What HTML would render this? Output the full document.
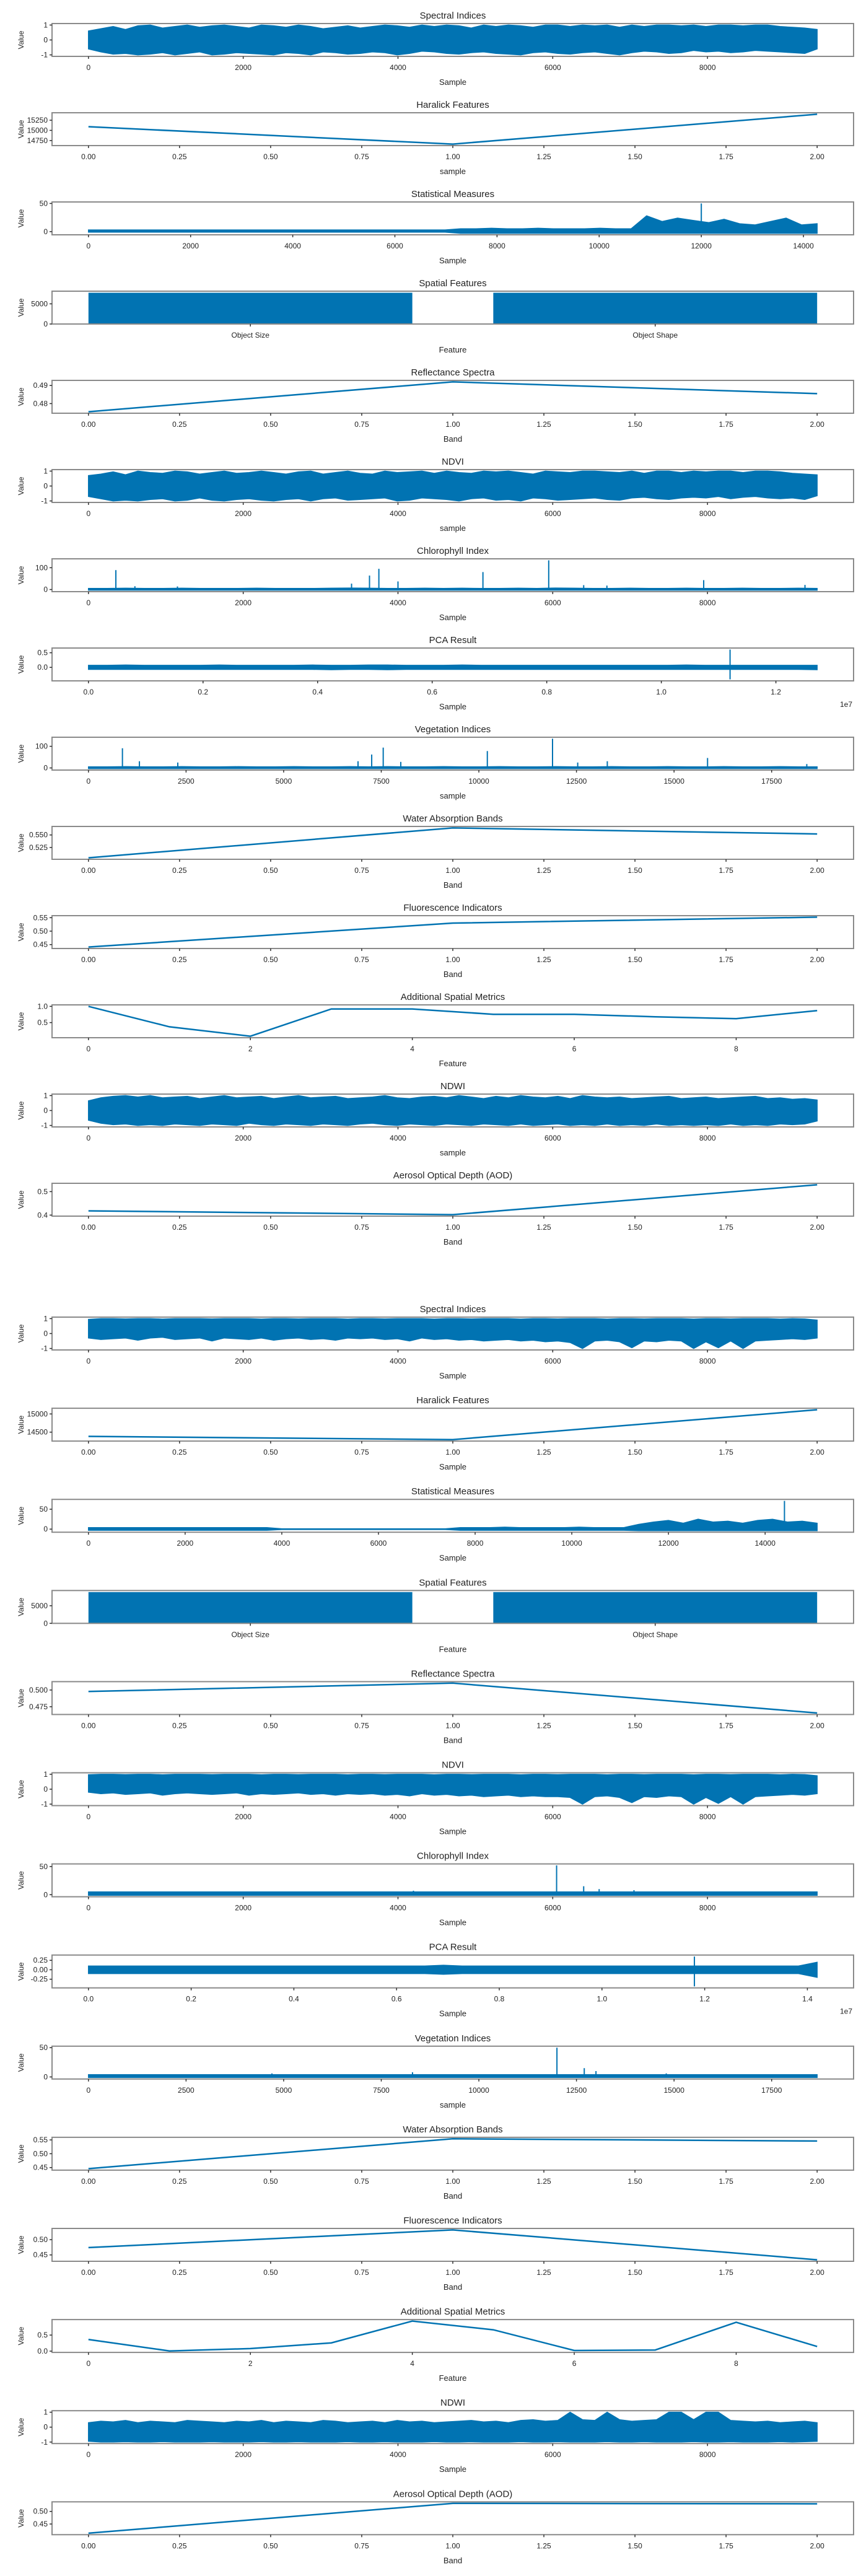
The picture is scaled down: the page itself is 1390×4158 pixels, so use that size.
<!DOCTYPE html>
<html><head><meta charset="utf-8">
<style>
html,body{margin:0;padding:0;background:#fff;}
svg{display:block;}
text{font-family:"Liberation Sans",sans-serif;fill:#222;}
</style></head>
<body>
<svg id="fig" width="1390" height="4158" viewBox="0 0 1390 4158" xmlns="http://www.w3.org/2000/svg"></svg>
<script>
// ---------- data ----------
const bandX = [0, 1, 2];
const featX = [0, 1, 2, 3, 4, 5, 6, 7, 8, 9];
const spatialCats = ["Object Size", "Object Shape"];

// group 1
const spec1Up = [0.6,0.75,0.9,0.7,0.95,1,0.8,0.9,1,0.85,0.95,1,0.9,0.8,1,0.95,0.85,1,0.9,0.75,0.85,0.95,0.8,0.9,1,0.95,0.85,1,0.9,1,0.95,0.8,1,0.9,1,0.95,0.85,1,1,0.9,1,0.95,1,0.85,1,0.9,1,1,0.95,1,0.9,1,1,0.95,1,1,0.9,0.85,0.8,0.7];
const spec1Lo = [-0.6,-0.8,-0.95,-0.9,-1,-0.95,-0.85,-1,-0.9,-0.8,-1,-0.95,-0.85,-0.9,-0.95,-1,-0.85,-0.9,-1,-0.8,-0.85,-0.95,-0.9,-0.8,-0.85,-1,-0.9,-0.75,-0.8,-0.9,-0.95,-0.85,-0.8,-0.9,-0.95,-1,-0.85,-0.8,-0.9,-0.95,-0.85,-0.8,-0.9,-1,-0.85,-0.75,-0.8,-0.9,-0.85,-0.7,-0.8,-0.75,-0.85,-0.8,-0.7,-0.75,-0.8,-0.85,-0.9,-0.6];
const haralick1 = [15091, 14662, 15397];
const stat1Up = [3,3,3,3,3,3,3,3,3,3,3,3,3,3,3,3,3,3,3,3,3,3,3,3,5,5,6,5,5,6,5,5,5,6,5,5,28,18,24,20,16,22,14,12,18,24,12,14];
const stat1Lo = [-1,-1,-1,-1,-1,-1,-1,-1,-1,-1,-1,-1,-1,-1,-1,-1,-1,-1,-1,-1,-1,-1,-1,-1,-3,-3,-3,-3,-3,-3,-3,-3,-3,-3,-3,-3,-3,-3,-3,-3,-3,-3,-3,-3,-3,-3,-3,-3];
const stat1SpikeX = [12000];
const stat1SpikeY = [50];
const spatial1 = [7750, 7750];
const refl1 = [0.4755, 0.492, 0.4855];
const ndvi1Up = [0.7,0.8,0.95,0.75,1,0.9,0.85,1,0.95,0.8,0.9,1,0.85,0.9,1,0.9,0.8,0.95,1,0.8,0.9,1,0.85,0.8,1,0.9,0.95,1,0.85,1,0.9,0.85,1,0.95,1,0.9,0.8,1,0.95,0.9,1,1,0.95,0.9,1,0.85,1,1,0.9,1,0.95,1,1,0.9,1,1,0.95,0.85,0.8,0.75];
const ndvi1Lo = [-0.7,-0.85,-1,-0.95,-1,-0.9,-0.85,-1,-0.95,-0.8,-0.95,-1,-0.9,-0.85,-0.95,-1,-0.9,-0.85,-1,-0.85,-0.8,-0.95,-0.9,-0.85,-0.8,-1,-0.95,-0.8,-0.85,-0.9,-1,-0.85,-0.8,-0.95,-0.9,-1,-0.8,-0.85,-0.95,-0.9,-0.85,-0.8,-0.9,-0.95,-0.8,-0.75,-0.85,-0.9,-0.8,-0.75,-0.8,-0.7,-0.85,-0.75,-0.7,-0.8,-0.85,-0.8,-0.9,-0.65];
const chl1Up = [5,5,6,5,5,6,5,5,5,6,5,5,5,6,7,6,5,5,6,5,6,5,5,6,5,7,6,5,5,6,5,5,6,5,5,6,5,5,6,5];
const chl1Lo = [-3,-3,-3,-3,-3,-3,-3,-3,-3,-3,-3,-3,-3,-3,-3,-3,-3,-3,-3,-3,-3,-3,-3,-3,-3,-3,-3,-3,-3,-3,-3,-3,-3,-3,-3,-3,-3,-3,-3,-3];
const chl1SpikeX = [354, 3400, 3632, 3753, 4000, 5098, 5948, 6400, 6700, 7951, 9260, 600, 1150];
const chl1SpikeY = [89, 27, 64, 95, 37, 80, 134, 20, 18, 43, 21, 15, 14];
const pca1Up = [0.07,0.07,0.08,0.07,0.07,0.07,0.07,0.08,0.07,0.07,0.07,0.07,0.08,0.07,0.07,0.08,0.08,0.07,0.07,0.07,0.08,0.07,0.07,0.07,0.07,0.07,0.07,0.07,0.07,0.07,0.07,0.07,0.08,0.07,0.07,0.07,0.07,0.07,0.07,0.07];
const pca1Lo = [-0.07,-0.07,-0.07,-0.07,-0.07,-0.07,-0.07,-0.07,-0.07,-0.07,-0.07,-0.07,-0.07,-0.08,-0.07,-0.07,-0.08,-0.07,-0.07,-0.07,-0.07,-0.07,-0.07,-0.07,-0.07,-0.07,-0.07,-0.07,-0.07,-0.07,-0.07,-0.07,-0.07,-0.07,-0.07,-0.07,-0.07,-0.07,-0.07,-0.08];
const pca1SpikeX = [11200000, 11200000];
const pca1SpikeY = [0.61, -0.41];
const veg1Up = [5,5,6,5,5,6,5,5,6,5,5,6,5,5,6,5,6,5,5,6,5,5,6,5,5,6,5,5,6,5,5,6,5,5,6,5,5,6,5,5];
const veg1Lo = [-3,-3,-3,-3,-3,-3,-3,-3,-3,-3,-3,-3,-3,-3,-3,-3,-3,-3,-3,-3,-3,-3,-3,-3,-3,-3,-3,-3,-3,-3,-3,-3,-3,-3,-3,-3,-3,-3,-3,-3];
const veg1SpikeX = [870, 1305, 2288, 6905, 7255, 7550, 8000, 10217, 11887, 12532, 13290, 15858, 18400];
const veg1SpikeY = [91, 31, 25, 31, 62, 94, 28, 78, 135, 25, 31, 46, 18];
const water1 = [0.5044, 0.564, 0.552];
const fluor1 = [0.441, 0.530, 0.552];
const addl1 = [1.0, 0.37, 0.08, 0.92, 0.92, 0.755, 0.755, 0.68, 0.62, 0.87];
const ndwi1Up = [0.65,0.85,0.95,1,0.9,1,0.85,0.9,0.95,0.8,0.9,1,0.85,0.9,0.95,0.8,0.9,1,0.85,0.9,0.95,0.8,0.85,0.9,1,0.85,0.8,0.9,0.95,0.85,1,0.9,0.8,0.95,0.85,1,0.9,0.85,0.95,0.8,1,0.9,0.85,0.9,0.8,0.85,0.9,0.95,0.8,0.85,0.9,0.8,0.85,0.9,0.95,0.8,0.85,0.75,0.8,0.7];
const ndwi1Lo = [-0.65,-0.85,-0.95,-0.9,-1,-0.95,-1,-0.9,-0.95,-1,-0.9,-0.95,-1,-0.85,-0.95,-1,-0.9,-0.95,-1,-0.9,-0.95,-1,-0.9,-0.85,-0.95,-1,-0.9,-0.95,-1,-0.9,-0.95,-1,-0.9,-0.95,-1,-0.9,-1,-0.95,-0.9,-1,-0.95,-1,-0.9,-1,-0.95,-1,-0.9,-1,-0.95,-1,-0.95,-1,-0.9,-1,-0.95,-1,-0.9,-0.95,-0.9,-0.7];
const aod1 = [0.418, 0.402, 0.529];

// group 2
const spec2Up = [0.95,1,1,0.98,1,1,0.97,1,1,1,0.98,1,1,1,0.97,1,1,0.98,1,1,1,0.97,1,1,0.98,1,1,1,0.97,1,1,0.98,1,1,1,0.97,1,1,0.98,1,1,1,0.97,1,1,0.98,1,1,1,0.97,1,1,0.98,1,1,1,0.97,1,0.98,0.9];
const spec2Lo = [-0.3,-0.4,-0.35,-0.3,-0.45,-0.3,-0.25,-0.4,-0.35,-0.3,-0.5,-0.3,-0.35,-0.4,-0.3,-0.45,-0.35,-0.3,-0.4,-0.35,-0.45,-0.3,-0.35,-0.3,-0.4,-0.35,-0.5,-0.3,-0.4,-0.35,-0.45,-0.4,-0.5,-0.45,-0.4,-0.5,-0.45,-0.55,-0.5,-0.6,-1.0,-0.5,-0.45,-0.55,-0.95,-0.5,-0.55,-0.45,-0.5,-1.0,-0.55,-0.95,-0.5,-1.0,-0.5,-0.45,-0.4,-0.35,-0.4,-0.3];
const haralick2 = [14384, 14295, 15116];
const stat2Up = [4,4,4,4,4,4,4,4,4,4,4,4,4,1,1,1,1,1,1,1,1,1,1,1,1,4,4,4,5,4,4,4,4,5,4,4,4,12,18,22,15,25,18,20,15,22,25,18,20,15];
const stat2Lo = [-3,-3,-3,-3,-3,-3,-3,-3,-3,-3,-3,-3,-3,-1,-1,-1,-1,-1,-1,-1,-1,-1,-1,-1,-1,-3,-3,-3,-3,-3,-3,-3,-3,-3,-3,-3,-3,-4,-4,-4,-4,-4,-4,-4,-4,-4,-4,-4,-4,-4];
const stat2SpikeX = [14400];
const stat2SpikeY = [71];
const spatial2 = [8875, 8875];
const refl2 = [0.4978, 0.5103, 0.4656];
const ndvi2Up = [0.97,1,1,0.98,1,1,0.97,1,1,1,0.98,1,1,1,0.97,1,1,0.98,1,1,1,0.97,1,1,0.98,1,1,1,0.97,1,1,0.98,1,1,1,0.97,1,1,0.98,1,1,1,0.97,1,1,0.98,1,1,1,0.97,1,1,0.98,1,1,1,0.97,1,0.98,0.9];
const ndvi2Lo = [-0.2,-0.3,-0.25,-0.35,-0.3,-0.25,-0.4,-0.3,-0.25,-0.3,-0.35,-0.3,-0.25,-0.4,-0.3,-0.35,-0.3,-0.25,-0.35,-0.3,-0.4,-0.3,-0.35,-0.3,-0.4,-0.35,-0.45,-0.3,-0.4,-0.35,-0.45,-0.4,-0.5,-0.45,-0.4,-0.5,-0.45,-0.5,-0.5,-0.55,-1.0,-0.5,-0.45,-0.55,-0.9,-0.5,-0.55,-0.45,-0.5,-1.0,-0.55,-0.95,-0.5,-1.0,-0.5,-0.45,-0.4,-0.35,-0.4,-0.3];
const chl2Up = [5,5,5,5,5,5,5,5,5,5,5,5,5,5,5,5,5,5,5,5,5,5,5,5,5,5,5,5,5,5,5,5,5,5,5,5,5,5,5,5];
const chl2Lo = [-1,-1,-1,-1,-1,-1,-1,-1,-1,-1,-1,-1,-1,-1,-1,-1,-1,-1,-1,-1,-1,-1,-1,-1,-1,-1,-1,-1,-1,-1,-1,-1,-1,-1,-1,-1,-1,-1,-1,-1];
const chl2SpikeX = [6050, 6400, 6600, 7050, 4200];
const chl2SpikeY = [52, 15, 10, 8, 7];
const pca2Up = [0.1,0.1,0.1,0.1,0.1,0.1,0.1,0.1,0.1,0.1,0.1,0.1,0.1,0.1,0.1,0.1,0.1,0.1,0.1,0.12,0.1,0.1,0.1,0.1,0.1,0.1,0.1,0.1,0.1,0.1,0.1,0.1,0.1,0.1,0.1,0.1,0.1,0.1,0.1,0.2];
const pca2Lo = [-0.1,-0.1,-0.1,-0.1,-0.1,-0.1,-0.1,-0.1,-0.1,-0.1,-0.1,-0.1,-0.1,-0.1,-0.1,-0.1,-0.1,-0.1,-0.1,-0.12,-0.1,-0.1,-0.1,-0.1,-0.1,-0.1,-0.1,-0.1,-0.1,-0.1,-0.1,-0.1,-0.1,-0.1,-0.1,-0.1,-0.1,-0.1,-0.1,-0.2];
const pca2SpikeX = [11800000, 11800000];
const pca2SpikeY = [0.35, -0.44];
const veg2Up = [4,4,4,4,4,4,4,4,4,4,4,4,4,4,4,4,4,4,4,4,4,4,4,4,4,4,4,4,4,4,4,4,4,4,4,4,4,4,4,4];
const veg2Lo = [-1,-1,-1,-1,-1,-1,-1,-1,-1,-1,-1,-1,-1,-1,-1,-1,-1,-1,-1,-1,-1,-1,-1,-1,-1,-1,-1,-1,-1,-1,-1,-1,-1,-1,-1,-1,-1,-1,-1,-1];
const veg2SpikeX = [12000, 12700, 13000, 8300, 4700, 14800];
const veg2SpikeY = [50, 15, 10, 8, 6, 6];
const water2 = [0.446, 0.554, 0.546];
const fluor2 = [0.474, 0.532, 0.434];
const addl2 = [0.364, 0.007, 0.08, 0.257, 0.936, 0.664, 0.02, 0.036, 0.9, 0.143];
const ndwi2Up = [0.3,0.4,0.35,0.45,0.3,0.4,0.35,0.3,0.45,0.4,0.35,0.3,0.4,0.35,0.45,0.3,0.4,0.35,0.3,0.45,0.4,0.3,0.35,0.4,0.3,0.45,0.35,0.4,0.3,0.35,0.4,0.45,0.35,0.4,0.3,0.45,0.5,0.4,0.45,1.0,0.5,0.45,1.0,0.5,0.4,0.45,0.5,1.0,1.0,0.5,1.0,1.0,0.45,0.4,0.35,0.4,0.3,0.35,0.4,0.3];
const ndwi2Lo = [-0.95,-1,-1,-0.98,-1,-1,-0.97,-1,-1,-1,-0.98,-1,-1,-1,-0.97,-1,-1,-0.98,-1,-1,-1,-0.97,-1,-1,-0.98,-1,-1,-1,-0.97,-1,-1,-0.98,-1,-1,-1,-0.97,-1,-1,-0.98,-1,-1,-1,-0.97,-1,-1,-0.98,-1,-1,-1,-0.97,-1,-1,-0.98,-1,-1,-1,-0.97,-1,-0.98,-0.95];
const aod2 = [0.4136, 0.532, 0.530];

// tick labels
const bandTicks = [0,0.25,0.5,0.75,1,1.25,1.5,1.75,2];
const bandTickLabels = ["0.00","0.25","0.50","0.75","1.00","1.25","1.50","1.75","2.00"];
const s9kTicks = [0,2000,4000,6000,8000];
const s9kLabels = ["0","2000","4000","6000","8000"];
const s14kTicks = [0,2000,4000,6000,8000,10000,12000,14000];
const s14kLabels = ["0","2000","4000","6000","8000","10000","12000","14000"];
const vegTicks = [0,2500,5000,7500,10000,12500,15000,17500];
const vegLabels = ["0","2500","5000","7500","10000","12500","15000","17500"];
const featTicks = [0,2,4,6,8];
const featLabels = ["0","2","4","6","8"];
const pcaTicks1 = [0,2e6,4e6,6e6,8e6,10e6,12e6];
const pcaTicks2 = [0,2e6,4e6,6e6,8e6,10e6,12e6,14e6];
const pcaLabels1 = ["0.0","0.2","0.4","0.6","0.8","1.0","1.2"];
const pcaLabels2 = ["0.0","0.2","0.4","0.6","0.8","1.0","1.2","1.4"];

// ---------- rendering ----------
const svg = document.getElementById('fig');
const NS = 'http://www.w3.org/2000/svg';
const BLUE = '#0173b2';
const AX_L = 84, AX_W = 1294, AX_H = 53;

function mk(tag, attrs, parent) {
  const e = document.createElementNS(NS, tag);
  for (const k in attrs) e.setAttribute(k, attrs[k]);
  parent.appendChild(e);
  return e;
}
function txt(str, x, y, size, parent, anchor) {
  const t = mk('text', {x: x, y: y, 'font-size': size, 'text-anchor': anchor || 'middle'}, parent);
  t.textContent = str;
  return t;
}

function drawPanel(top, s, key) {
  const g = mk('g', {}, svg);
  
  
  // data extents
  let xmin, xmax, ymin, ymax;
  if (s.type === 'bar') {
    xmin = -0.4; xmax = s.vals.length - 1 + 0.4;
    ymin = 0; ymax = Math.max(...s.vals);
  } else if (s.type === 'line') {
    xmin = s.xs[0]; xmax = s.xs[s.xs.length - 1];
    ymin = Math.min(...s.ys); ymax = Math.max(...s.ys);
  } else {
    xmin = 0; xmax = s.xEnd;
    const all = s.up.concat(s.lo).concat(s.spY || []);
    ymin = Math.min(...all); ymax = Math.max(...all);
  }
  const dx = (xmax - xmin) * 0.05;
  const dy = (ymax - ymin) * 0.05;
  const X0 = xmin - dx, X1 = xmax + dx;
  const Y0 = s.type === 'bar' ? 0 : ymin - dy, Y1 = ymax + dy;
  const xs = v => AX_L + (v - X0) / (X1 - X0) * AX_W;
  const ys = v => top + AX_H - (v - Y0) / (Y1 - Y0) * AX_H;

  // title
  const ti = txt(s.title, AX_L + AX_W / 2, top - 8, 15, g);
  
  

  // series
  const clip = 'clip-' + key;
  const cp = mk('clipPath', {id: clip}, g);
  mk('rect', {x: AX_L, y: top, width: AX_W, height: AX_H}, cp);
  const sg = mk('g', {'clip-path': 'url(#' + clip + ')'}, g);
  if (s.type === 'bar') {
    s.vals.forEach((v, i) => {
      const r = mk('rect', {x: xs(i - 0.4), y: ys(v), width: xs(i + 0.4) - xs(i - 0.4), height: ys(0) - ys(v), fill: BLUE}, sg);
      
      
    });
  } else if (s.type === 'line') {
    const pts = s.xs.map((x, i) => xs(x).toFixed(1) + ',' + ys(s.ys[i]).toFixed(1)).join(' ');
    const pl = mk('polyline', {points: pts, fill: 'none', stroke: BLUE, 'stroke-width': 2.5}, sg);
    
    
  } else {
    const n = s.up.length;
    const bx = i => xmin + i * (xmax - xmin) / (n - 1);
    let pts = [];
    for (let i = 0; i < n; i++) pts.push(xs(bx(i)).toFixed(1) + ',' + ys(s.up[i]).toFixed(1));
    for (let i = n - 1; i >= 0; i--) pts.push(xs(bx(i)).toFixed(1) + ',' + ys(s.lo[i]).toFixed(1));
    const pg = mk('polygon', {points: pts.join(' '), fill: BLUE, stroke: BLUE, 'stroke-width': 1.5}, sg);
    
    
    (s.spX || []).forEach((x, i) => {
      const ln = mk('line', {x1: xs(x), x2: xs(x), y1: ys(0), y2: ys(s.spY[i]), stroke: BLUE, 'stroke-width': 2}, sg);
      
      
    });
  }
  // frame
  const fr = mk('rect', {x: AX_L, y: top, width: AX_W, height: AX_H, fill: 'none', stroke: '#8a8a8a', 'stroke-width': 2}, g);
  
  

  // x ticks
  const xg = mk('g', {}, g);
  
  
  const xt = s.type === 'bar' ? s.cats.map((c, i) => i) : s.xt;
  const xl = s.type === 'bar' ? s.cats : s.xtl;
  xt.forEach((v, i) => {
    mk('line', {x1: xs(v), x2: xs(v), y1: top + AX_H, y2: top + AX_H + 4, stroke: '#333', 'stroke-width': 1.5}, xg);
    txt(xl[i], xs(v), top + AX_H + 22, 12, xg);
  });
  const xlab = txt(s.xlabel, AX_L + AX_W / 2, top + AX_H + 46, 13, g);
  
  
  if (s.offset) txt(s.offset, 1366, top + AX_H + 42, 12, g);

  // y ticks
  const yg = mk('g', {}, g);
  
  
  s.yt.forEach((v, i) => {
    mk('line', {x1: AX_L - 4, x2: AX_L, y1: ys(v), y2: ys(v), stroke: '#333', 'stroke-width': 1.5}, yg);
    txt(s.ytl[i], AX_L - 7, ys(v) + 4, 12, yg, 'end');
  });
  const ylab = txt('Value', 0, 0, 12, g);
  ylab.setAttribute('transform', 'translate(38,' + (top + AX_H / 2) + ') rotate(-90)');
  
  
}

function bandSpec(title, ys, yt, ytl) {
  return {title: title, xlabel: 'Band', type: 'line', xs: bandX, ys: ys, xt: bandTicks, xtl: bandTickLabels, yt: yt, ytl: ytl};
}
function envSpec(title, xlabel, xEnd, up, lo, spX, spY, xt, xtl, yt, ytl) {
  return {title: title, xlabel: xlabel, type: 'env', xEnd: xEnd, up: up, lo: lo, spX: spX, spY: spY, xt: xt, xtl: xtl, yt: yt, ytl: ytl};
}

const group1 = [
  envSpec('Spectral Indices', 'Sample', 9417, spec1Up, spec1Lo, [], [], s9kTicks, s9kLabels, [-1,0,1], ['-1','0','1']),
  {title: 'Haralick Features', xlabel: 'sample', type: 'line', xs: bandX, ys: haralick1, xt: bandTicks, xtl: bandTickLabels, yt: [14750,15000,15250], ytl: ['14750','15000','15250']},
  envSpec('Statistical Measures', 'Sample', 14268, stat1Up, stat1Lo, stat1SpikeX, stat1SpikeY, s14kTicks, s14kLabels, [0,50], ['0','50']),
  {title: 'Spatial Features', xlabel: 'Feature', type: 'bar', vals: spatial1, cats: spatialCats, yt: [0,5000], ytl: ['0','5000']},
  bandSpec('Reflectance Spectra', refl1, [0.48,0.49], ['0.48','0.49']),
  envSpec('NDVI', 'sample', 9417, ndvi1Up, ndvi1Lo, [], [], s9kTicks, s9kLabels, [-1,0,1], ['-1','0','1']),
  envSpec('Chlorophyll Index', 'Sample', 9417, chl1Up, chl1Lo, chl1SpikeX, chl1SpikeY, s9kTicks, s9kLabels, [0,100], ['0','100']),
  Object.assign(envSpec('PCA Result', 'Sample', 12720000, pca1Up, pca1Lo, pca1SpikeX, pca1SpikeY, pcaTicks1, pcaLabels1, [0,0.5], ['0.0','0.5']), {offset: '1e7'}),
  envSpec('Vegetation Indices', 'sample', 18665, veg1Up, veg1Lo, veg1SpikeX, veg1SpikeY, vegTicks, vegLabels, [0,100], ['0','100']),
  bandSpec('Water Absorption Bands', water1, [0.525,0.55], ['0.525','0.550']),
  bandSpec('Fluorescence Indicators', fluor1, [0.45,0.5,0.55], ['0.45','0.50','0.55']),
  {title: 'Additional Spatial Metrics', xlabel: 'Feature', type: 'line', xs: featX, ys: addl1, xt: featTicks, xtl: featLabels, yt: [0.5,1.0], ytl: ['0.5','1.0']},
  envSpec('NDWI', 'sample', 9417, ndwi1Up, ndwi1Lo, [], [], s9kTicks, s9kLabels, [-1,0,1], ['-1','0','1']),
  bandSpec('Aerosol Optical Depth (AOD)', aod1, [0.4,0.5], ['0.4','0.5'])
];
const group2 = [
  envSpec('Spectral Indices', 'Sample', 9417, spec2Up, spec2Lo, [], [], s9kTicks, s9kLabels, [-1,0,1], ['-1','0','1']),
  {title: 'Haralick Features', xlabel: 'Sample', type: 'line', xs: bandX, ys: haralick2, xt: bandTicks, xtl: bandTickLabels, yt: [14500,15000], ytl: ['14500','15000']},
  envSpec('Statistical Measures', 'Sample', 15076, stat2Up, stat2Lo, stat2SpikeX, stat2SpikeY, s14kTicks, s14kLabels, [0,50], ['0','50']),
  {title: 'Spatial Features', xlabel: 'Feature', type: 'bar', vals: spatial2, cats: spatialCats, yt: [0,5000], ytl: ['0','5000']},
  bandSpec('Reflectance Spectra', refl2, [0.475,0.5], ['0.475','0.500']),
  envSpec('NDVI', 'Sample', 9417, ndvi2Up, ndvi2Lo, [], [], s9kTicks, s9kLabels, [-1,0,1], ['-1','0','1']),
  envSpec('Chlorophyll Index', 'Sample', 9417, chl2Up, chl2Lo, chl2SpikeX, chl2SpikeY, s9kTicks, s9kLabels, [0,50], ['0','50']),
  Object.assign(envSpec('PCA Result', 'Sample', 14190000, pca2Up, pca2Lo, pca2SpikeX, pca2SpikeY, pcaTicks2, pcaLabels2, [-0.25,0,0.25], ['-0.25','0.00','0.25']), {offset: '1e7'}),
  envSpec('Vegetation Indices', 'sample', 18665, veg2Up, veg2Lo, veg2SpikeX, veg2SpikeY, vegTicks, vegLabels, [0,50], ['0','50']),
  bandSpec('Water Absorption Bands', water2, [0.45,0.5,0.55], ['0.45','0.50','0.55']),
  bandSpec('Fluorescence Indicators', fluor2, [0.45,0.5], ['0.45','0.50']),
  {title: 'Additional Spatial Metrics', xlabel: 'Feature', type: 'line', xs: featX, ys: addl2, xt: featTicks, xtl: featLabels, yt: [0,0.5], ytl: ['0.0','0.5']},
  envSpec('NDWI', 'Sample', 9417, ndwi2Up, ndwi2Lo, [], [], s9kTicks, s9kLabels, [-1,0,1], ['-1','0','1']),
  bandSpec('Aerosol Optical Depth (AOD)', aod2, [0.45,0.5], ['0.45','0.50'])
];

group1.forEach((s, i) => drawPanel(38 + 144 * i, s, 'g1-' + s.title.toLowerCase().replace(/[^a-z]+/g, '-').replace(/-$/, '')));
group2.forEach((s, i) => drawPanel(2126 + 147.1 * i, s, 'g2-' + s.title.toLowerCase().replace(/[^a-z]+/g, '-').replace(/-$/, '')));
</script>
</body></html>
